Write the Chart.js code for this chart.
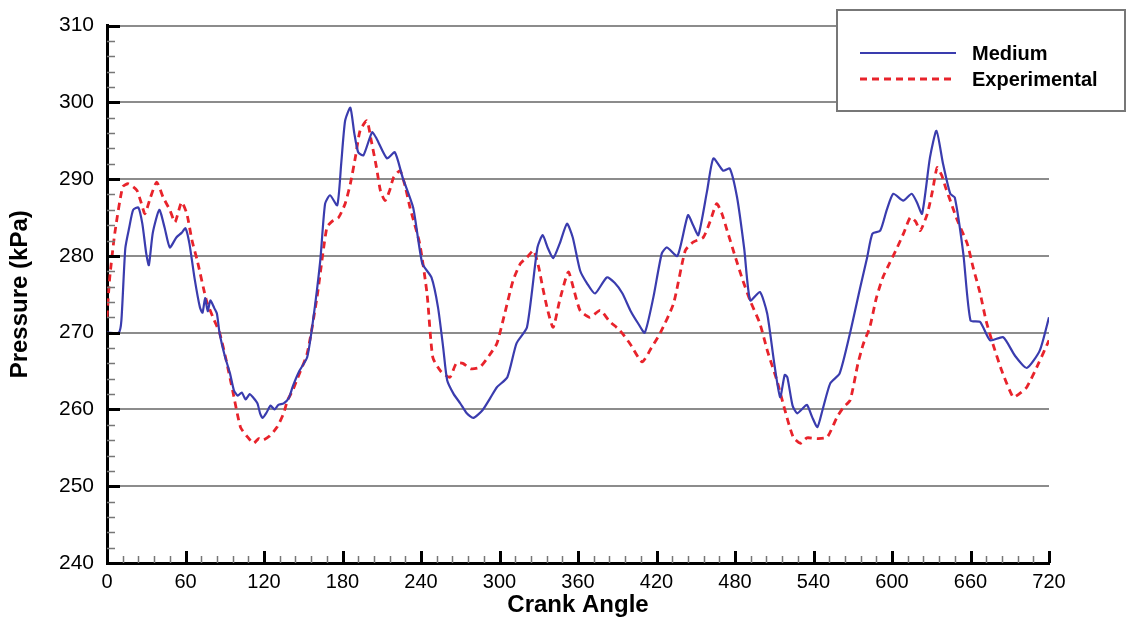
<!DOCTYPE html>
<html>
<head>
<meta charset="utf-8">
<script src="https://cdn.jsdelivr.net/npm/chart.js@4/dist/chart.umd.min.js"></script>
<style>
  html, body { margin: 0; padding: 0; background: #ffffff; }
  #wrap { width: 1127px; height: 622px; }
</style>
</head>
<body>
<div id="wrap"><canvas id="c" width="1127" height="622"></canvas></div>
<script>
// ---- Data ----
const seriesLabels = ["Medium", "Experimental"];
const xTickValues = [0, 60, 120, 180, 240, 300, 360, 420, 480, 540, 600, 660, 720];
const yTickValues = [240, 250, 260, 270, 280, 290, 300, 310];

const mediumAngle = [0, 9, 11, 14, 17, 20, 24, 27, 30, 32, 35, 40, 44, 48, 53, 57, 60, 63, 67, 71, 73, 75, 77, 79, 82, 84, 86, 90, 94, 97, 100, 103, 106, 109, 112, 115, 117, 119, 122, 125, 128, 131, 135, 139, 142, 147, 153, 157.5, 163, 166.7, 170.5, 176, 179, 182, 186, 189, 192, 196, 202.6, 206, 214, 220, 226, 234, 241, 248, 253, 257, 260, 265, 270, 275, 280, 287, 293, 298, 306, 313, 321, 329, 333, 337, 341, 346, 351.6, 356, 361.6, 367, 373, 382, 388, 394, 400, 406, 411, 417.6, 424, 428, 436, 444, 448, 452, 458.7, 463.5, 471, 476, 481.6, 487, 491.6, 499, 504.6, 510, 514.5, 518, 520, 524, 527.5, 531, 535, 539, 543, 547, 552.8, 560, 568, 575.7, 581, 585, 591, 596, 601, 608.6, 615, 619, 623, 629, 634, 639, 644.5, 648, 654.5, 660, 667.4, 675, 685, 694, 703, 713, 720];
const mediumPressure = [270, 270, 271.6, 281, 283.7, 286, 286.3, 284.2, 280.3, 278.8, 283, 286, 283.7, 281.1, 282.4, 283, 283.6, 281.6, 277, 273.3, 272.6, 274.5, 272.8, 274.2, 273.2, 272.5, 270, 267, 264.7, 262.5, 261.8, 262.2, 261.3, 262, 261.5, 260.8, 259.5, 258.9, 259.6, 260.5, 260, 260.6, 260.8, 261.5, 263, 265, 266.8, 271.6, 279.4, 286.8, 287.9, 286.6, 292, 297.6, 299.3, 296, 293.5, 293.1, 296.1, 295.3, 292.7, 293.5, 290.2, 286.3, 279, 277.2, 273.3, 268, 263.8, 262, 260.8, 259.5, 258.9, 259.9, 261.5, 262.9, 264.2, 268.6, 270.7, 281.1, 282.7, 281, 279.7, 281.6, 284.2, 282.4, 278.1, 276.4, 275.1, 277.2, 276.5, 275.1, 272.9, 271.2, 270, 274.6, 280.3, 281.1, 280, 285.3, 284, 282.7, 288.5, 292.7, 291.1, 291.4, 287.6, 281, 274.2, 275.3, 272.5, 266, 261.6, 264.5, 264.2, 260.5, 259.5, 260, 260.6, 259, 257.7, 260, 263.4, 264.7, 270, 275.9, 279.8, 282.9, 283.3, 286, 288.1, 287.2, 288.1, 287, 285.5, 292.8, 296.3, 292, 288.1, 287.6, 280.3, 271.6, 271.4, 269, 269.4, 267, 265.4, 267.7, 272];

const expAngle = [0, 2, 6, 12, 16, 20, 23, 26, 29, 33, 38, 43, 48, 52, 57, 61, 65, 69, 76, 81, 86, 91, 96, 102, 107, 112, 116, 119, 124, 130, 135, 138, 142, 145, 153, 160.5, 168, 172, 177, 182, 186, 190, 193.4, 198.6, 202, 206, 209, 212.5, 216, 219, 224, 228, 231.6, 239, 244.6, 249, 255, 262, 267, 272, 278, 285, 292, 298, 304, 310.4, 316, 321, 326, 330, 333, 337, 341, 346, 352.6, 357, 361.6, 369, 377, 384, 392, 400, 409, 416, 423, 433, 442, 448, 455.7, 461, 466, 470, 474, 480, 486, 492, 499, 505, 512, 518, 524.5, 530, 535, 543, 550.5, 558, 563, 568, 574, 578, 583, 588, 593, 598, 604, 609, 614, 618, 621.6, 627, 631, 634.5, 638, 641, 646, 650, 657.5, 662, 667.4, 672, 677, 684, 692.6, 697, 703, 712, 720];
const expPressure = [272, 277, 283, 289, 289.4, 289, 288.5, 287, 285.5, 287.5, 289.6, 287.6, 286, 284.4, 287, 285.5, 282, 279.4, 274.2, 272, 270, 266.5, 262.5, 257.7, 256.5, 255.6, 256.2, 256, 256.5, 257.7, 259.5, 261.2, 262.5, 263.8, 267.3, 274.6, 283.7, 284.5, 285, 286.8, 289.4, 293, 296.3, 297.6, 295, 291.5, 288.5, 287.2, 288.5, 290.2, 291.1, 289, 286.3, 281.6, 275.1, 266.8, 265, 264.2, 266, 266, 265.3, 265.5, 267, 268.6, 272.5, 276.8, 279, 279.8, 280.7, 278.5, 275.9, 272.8, 270.7, 274.2, 277.9, 275.5, 272.9, 272, 272.9, 271.5, 270.3, 268.5, 266.2, 268, 270, 273.8, 280.7, 281.8, 282.4, 284.5, 286.8, 285.5, 283.3, 280, 276.8, 274, 271.2, 267.5, 263.8, 260, 256.4, 255.6, 256.3, 256.2, 256.4, 259, 260.3, 261.2, 266, 268.5, 270.7, 274.5, 277.2, 279, 281.1, 283, 285, 284.5, 283.3, 285.5, 288.5, 291.5, 290.5, 288.9, 286.5, 284.6, 281.6, 278.5, 275.1, 271.5, 268.6, 265, 261.6, 262, 262.9, 266, 269];

// ---- Style ----
const FONT = "'Liberation Sans', Arial, Helvetica, sans-serif";
const BLUE = "#3a3cae";
const RED = "#e8232b";
const DASH = [7, 5];

function toPoints(xs, ys) { return xs.map((x, i) => ({ x: x, y: ys[i] })); }

// Inward tick marks (major + minor), placed through the chart's scales
const inwardTicks = {
  id: "inwardTicks",
  afterDatasetsDraw(chart) {
    const { ctx, chartArea, scales } = chart;
    const xs = scales.x, ys = scales.y;
    ctx.save();
    for (let v = ys.min; v <= ys.max + 1e-9; v += 2) {
      const py = Math.round(ys.getPixelForValue(v)) + 0.5;
      const major = Math.abs(v % 10) < 1e-9;
      ctx.beginPath();
      ctx.strokeStyle = major ? "#000" : "#777";
      ctx.lineWidth = major ? 3 : 1.5;
      ctx.moveTo(chartArea.left, py);
      ctx.lineTo(chartArea.left + (major ? 13 : 8), py);
      ctx.stroke();
    }
    for (let v = xs.min; v <= xs.max + 1e-9; v += 12) {
      const px = Math.round(xs.getPixelForValue(v)) + 0.5;
      const major = Math.abs(v % 60) < 1e-9;
      ctx.beginPath();
      ctx.strokeStyle = major ? "#000" : "#777";
      ctx.lineWidth = major ? 3 : 1.5;
      ctx.moveTo(px, chartArea.bottom);
      ctx.lineTo(px, chartArea.bottom - (major ? 12 : 7));
      ctx.stroke();
    }
    ctx.restore();
  }
};

// Boxed legend in the upper right, built from the datasets
const boxLegend = {
  id: "boxLegend",
  afterDraw(chart) {
    const { ctx } = chart;
    const bx = 837, by = 10, bw = 288, bh = 101;
    ctx.save();
    ctx.fillStyle = "#fff";
    ctx.fillRect(bx, by, bw, bh);
    ctx.strokeStyle = "#777";
    ctx.lineWidth = 2;
    ctx.strokeRect(bx, by, bw, bh);
    const rows = [53, 79];
    chart.data.datasets.forEach((ds, i) => {
      const y = rows[i];
      ctx.beginPath();
      ctx.strokeStyle = ds.borderColor;
      ctx.lineWidth = ds.borderWidth;
      ctx.setLineDash(ds.borderDash || []);
      ctx.moveTo(860, y);
      ctx.lineTo(956, y);
      ctx.stroke();
      ctx.setLineDash([]);
      ctx.fillStyle = "#000";
      ctx.font = "bold 20px " + FONT;
      ctx.textBaseline = "middle";
      ctx.textAlign = "left";
      ctx.fillText(ds.label, 972, y + 1);
    });
    ctx.restore();
  }
};

new Chart(document.getElementById("c"), {
  type: "line",
  data: {
    datasets: [
      {
        label: seriesLabels[0],
        data: toPoints(mediumAngle, mediumPressure),
        borderColor: BLUE,
        borderWidth: 2.2,
        pointRadius: 0,
        tension: 0.2,
        fill: false
      },
      {
        label: seriesLabels[1],
        data: toPoints(expAngle, expPressure),
        borderColor: RED,
        borderWidth: 2.8,
        borderDash: DASH,
        pointRadius: 0,
        tension: 0.2,
        fill: false
      }
    ]
  },
  options: {
    responsive: false,
    animation: false,
    devicePixelRatio: 1,
    layout: { padding: { left: 0, right: 78, top: 25, bottom: 0 } },
    plugins: { legend: { display: false }, tooltip: { enabled: false } },
    scales: {
      x: {
        type: "linear",
        min: 0, max: 720,
        afterBuildTicks(scale) { scale.ticks = xTickValues.map(v => ({ value: v })); },
        afterFit(scale) { scale.height = 59; },
        grid: { display: false, drawTicks: false },
        border: { display: true, color: "#000", width: 3 },
        ticks: { color: "#000", font: { family: FONT, size: 20 }, padding: 7, maxRotation: 0 },
        title: { display: true, text: "Crank Angle", color: "#000", font: { family: FONT, size: 24, weight: "bold" }, padding: { top: 0, bottom: 2 } }
      },
      y: {
        type: "linear",
        min: 240, max: 310,
        afterBuildTicks(scale) { scale.ticks = yTickValues.map(v => ({ value: v })); },
        afterFit(scale) { scale.width = 107; },
        grid: { color: "#8c8c8c", lineWidth: 2, drawTicks: false },
        border: { display: true, color: "#000", width: 3 },
        ticks: { color: "#000", font: { family: FONT, size: 21 }, padding: 13 },
        title: { display: true, text: "Pressure (kPa)", color: "#000", font: { family: FONT, size: 24, weight: "bold" }, padding: { top: 6, bottom: 0 } }
      }
    }
  },
  plugins: [inwardTicks, boxLegend]
});
</script>
</body>
</html>
